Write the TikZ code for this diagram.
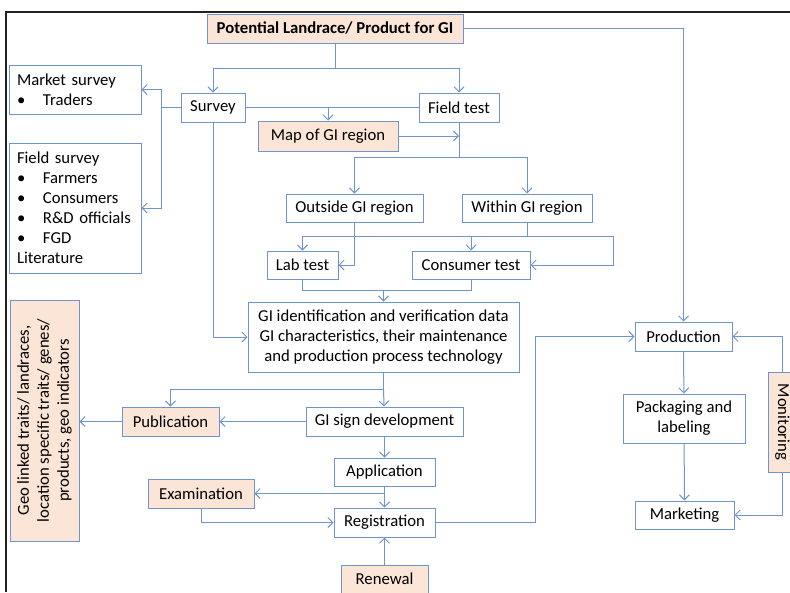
\documentclass[tikz,border=0pt]{standalone}
\usepackage{fontspec}
\setmainfont{Carlito}
\usepackage{tikz}
\usetikzlibrary{positioning,calc,arrows.meta}
\definecolor{GIBlue}{RGB}{112,148,206}
\definecolor{GIPeach}{RGB}{251,229,214}
\definecolor{GIFrame}{RGB}{34,34,34}
\newcommand{\gibullet}{\makebox[26pt][l]{\textbullet}}
\tikzset{
    gibox/.style={draw=GIBlue, line width=1pt, fill=white, inner sep=0pt, align=center, font=\fontsize{16.7}{20}\selectfont},
    peachbox/.style={gibox, fill=GIPeach},
    listbox/.style={gibox, align=left, inner xsep=8pt, text width=116pt},
    flowline/.style={draw=GIBlue, line width=1pt},
    flowarrow/.style={flowline, -{Straight Barb[length=5pt,width=10pt]}}
}

\begin{document}
\begin{tikzpicture}[x=1pt, y=-1pt]
	\useasboundingbox (0,0) rectangle (790,592);
	\clip (0,0) rectangle (790,592);
	% frame of the screenshot
	\draw[GIFrame, line width=2pt] (6,592) -- (6,12) -- (790,12);

	% survey part
	\node[peachbox, minimum width=256pt, minimum height=29pt, font=\fontsize{16.7}{20}\selectfont\bfseries] (top) at (335,28.5) {Potential Landrace/ Product for GI};
	\node[gibox, minimum width=64pt, minimum height=29pt] (survey) at (213,107.5) {Survey};
	\node[gibox, minimum width=80pt, minimum height=29pt] (ftest) at (459,107.5) {Field test};
	\node[peachbox, minimum width=140pt, minimum height=30pt] (map) at (328,136) {Map of GI region};
	\node[listbox, minimum height=49pt] (mkt) at (75,89.5) {Market survey\\\gibullet Traders};
	\node[listbox, minimum height=130pt] (fsurv) at (75,208) {Field survey\\\gibullet Farmers\\\gibullet Consumers\\\gibullet R\&D officials\\\gibullet FGD\\Literature};

	% field test part
	\node[gibox, minimum width=137pt, minimum height=28pt] (out) at (354.5,208) {Outside GI region};
	\node[gibox, minimum width=130pt, minimum height=28pt] (within) at (527,208) {Within GI region};
	\node[gibox, minimum width=71pt, minimum height=28pt] (lab) at (302.5,265) {Lab test};
	\node[gibox, minimum width=118pt, minimum height=28pt] (cons) at (471,265) {Consumer test};
	\node[gibox, minimum width=271pt, minimum height=70pt] (gi) at (383.5,337) {GI identification and verification data\\GI characteristics, their maintenance\\and production process technology};

	% registration part
	\node[peachbox, minimum width=97pt, minimum height=29pt] (pub) at (170.5,421.5) {Publication};
	\node[gibox, minimum width=157pt, minimum height=29pt] (sign) at (384.5,421.5) {GI sign development};
	\node[peachbox, rotate=90, minimum width=241pt, minimum height=69pt] (geo) at (44.5,420.5) {Geo linked traits/ landraces,\\location specific traits/ genes/\\products, geo indicators};
	\node[gibox, minimum width=101pt, minimum height=28pt] (app) at (384.5,472) {Application};
	\node[peachbox, minimum width=106pt, minimum height=29pt] (exam) at (201,493.5) {Examination};
	\node[gibox, minimum width=101pt, minimum height=29pt] (reg) at (384.5,522.5) {Registration};
	\node[peachbox, minimum width=87pt, minimum height=28pt] (ren) at (384.5,579) {Renewal};

	% market part
	\node[gibox, minimum width=97pt, minimum height=29pt] (prod) at (683.5,336.5) {Production};
	\node[gibox, minimum width=122pt, minimum height=49pt] (pack) at (684,418.5) {Packaging and\\labeling};
	\node[gibox, minimum width=99pt, minimum height=28pt] (mark) at (684.5,515) {Marketing};
	\node[peachbox, rotate=-90, minimum width=100pt, minimum height=28pt] (mon) at (782.5,422) {Monitoring};

	\coordinate (split1) at (335,68);
	\coordinate (mapin) at (328,107.5);
	\coordinate (split2) at (459,157);
	\coordinate (svy) at (161,107.5);
	\coordinate (split3) at (527,236.5);
	\coordinate (bend) at (613,236.5);
	\coordinate (merge) at (383.5,290);
	\coordinate (split4) at (383.5,389);
	\coordinate (exout) at (384.5,493.5);
	\coordinate (regout) at (535,522.5);

	\draw[flowline] (top) -- (split1);
	\draw[flowarrow] (split1) -| (survey);
	\draw[flowarrow] (split1) -| (ftest);
	\draw[flowarrow] (top) -| (prod);

	\draw[flowline] (survey) -- (ftest);
	\draw[flowarrow] (mapin) -- (map);
	\draw[flowarrow] (map.east) -- (map.east -| ftest.south);
	\draw[flowline] (survey) -- (svy);
	\draw[flowarrow] (svy) |- (mkt);
	\draw[flowarrow] (svy) |- (fsurv);
	\draw[flowarrow] (survey) |- (gi);

	\draw[flowline] (ftest) -- (split2);
	\draw[flowarrow] (split2) -| (out);
	\draw[flowarrow] (split2) -| (within);
	\draw[flowarrow] (out) |- (lab);
	\draw[flowline] (within) -- (split3);
	\draw[flowarrow] (split3) -| (lab);
	\draw[flowarrow] (split3) -| (cons);
	\draw[flowarrow] (split3) -- (bend) |- (cons);
	\draw[flowline] (lab) |- (merge);
	\draw[flowline] (cons) |- (merge);
	\draw[flowarrow] (merge) -- (gi);

	\draw[flowline] (gi) -- (split4);
	\draw[flowarrow] (split4) -| (pub);
	\draw[flowarrow] (split4) -- (sign);
	\draw[flowarrow] (sign) -- (pub);
	\draw[flowarrow] (pub.west) -- (pub.west -| geo.south);
	\draw[flowarrow] (sign) -- (app);
	\draw[flowarrow] (app) -- (reg);
	\draw[flowarrow] (exout) -- (exam);
	\draw[flowarrow] (exam) |- (reg);
	\draw[flowarrow] (ren) -- (reg);
	\draw[flowline] (reg) -- (regout);
	\draw[flowarrow] (regout) |- (prod);

	\draw[flowarrow] (prod) -- (pack);
	\draw[flowarrow] (pack) -- (mark);
	\draw[flowarrow] (mon) |- (prod);
	\draw[flowarrow] (mon) |- (mark);
\end{tikzpicture}
\end{document}
